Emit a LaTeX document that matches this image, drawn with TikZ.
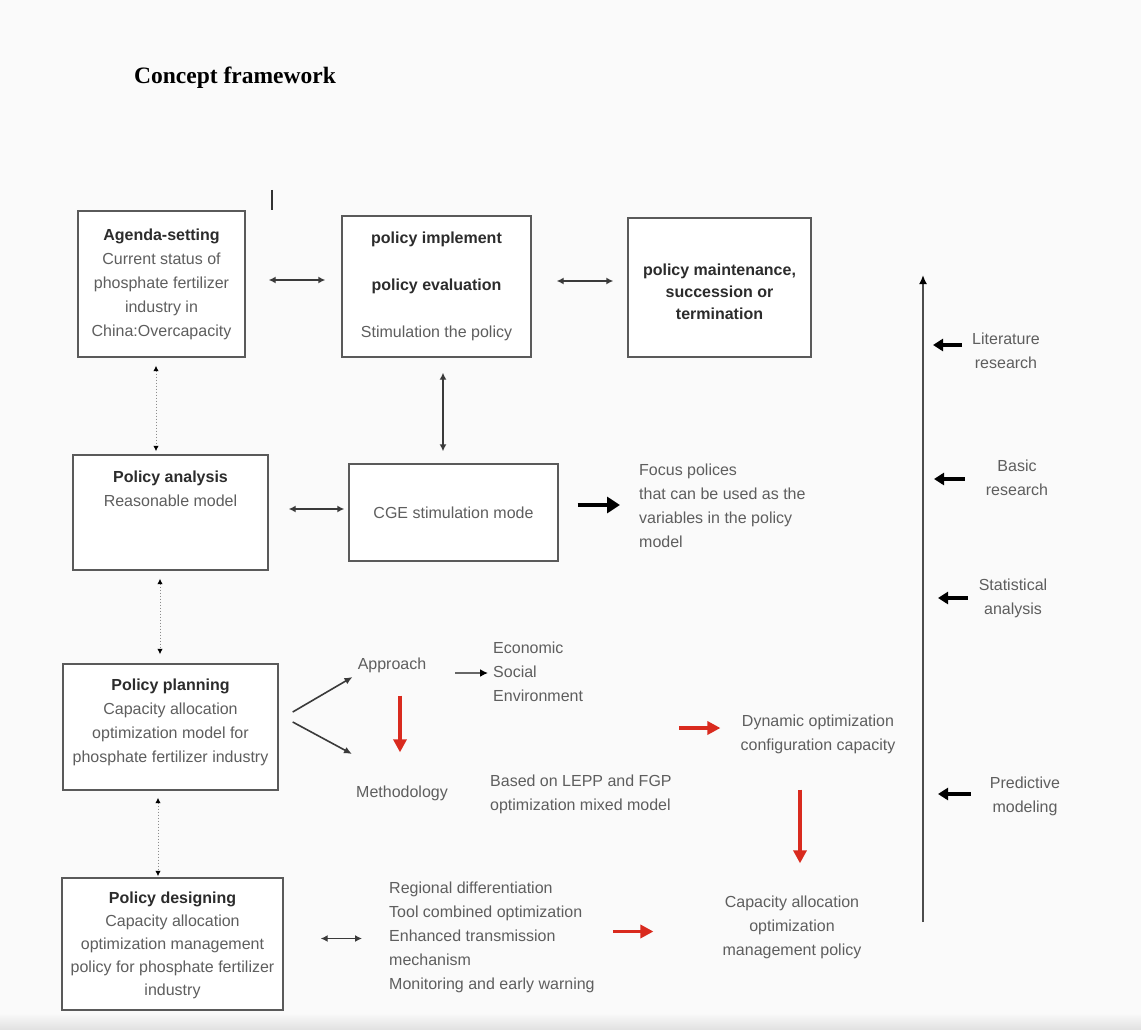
\documentclass[tikz,border=0pt]{standalone}
\usepackage{fontspec}
\setmainfont{Liberation Sans}
\newfontfamily\titlefont{Liberation Serif}
\usetikzlibrary{arrows.meta}

\definecolor{paper}{HTML}{FAFAFA}
\definecolor{ink}{HTML}{3A3A3A}
\definecolor{boxline}{HTML}{5A5A5A}
\definecolor{txt}{HTML}{5E5E5E}
\definecolor{head}{HTML}{2C2C2C}
\definecolor{redarrow}{HTML}{D92A1E}

\newcommand{\bhd}[1]{{\bfseries\color{head}#1}}

\tikzset{
  box/.style={draw=boxline, line width=1.4pt, fill=white, inner sep=2pt,
    font=\fontsize{16}{24}\selectfont, text=txt, align=center},
  body/.style={font=\fontsize{16}{24}\selectfont, text=txt, align=center, inner sep=2pt},
  lbody/.style={body, align=left},
  twoway/.style={draw=ink, line width=1.4pt,
    {Latex[length=7pt,width=7pt]}-{Latex[length=7pt,width=7pt]}},
  dotway/.style={draw=black!45, line width=1pt, dotted,
    {Latex[length=5.5pt,width=5.5pt,black]}-{Latex[length=5.5pt,width=5.5pt,black]}},
  thin/.style={draw=ink, line width=1.6pt, -{Latex[length=8pt,width=7pt]}},
  grayarrow/.style={draw=black!60, line width=2.6pt, -{Latex[length=8pt,width=8pt,black]}},
  redarr/.style={draw=redarrow, line width=3.4pt, -{Triangle[length=13pt,width=13pt]}},
  fatarr/.style={draw=black, line width=4.5pt, -{Triangle[length=13pt,width=16pt]}},
  backarr/.style={draw=black, line width=3.6pt, -{Triangle[length=10pt,width=12pt]}},
  axisarr/.style={draw=black!70, line width=2pt, -{Latex[length=9pt,width=8pt,black]}},
}

\begin{document}
\begin{tikzpicture}[x=1pt,y=-1pt]
\useasboundingbox (0,0) rectangle (1141,1030);
\fill[paper] (0,0) rectangle (1141,1030);
\shade[top color=paper, bottom color=black!12] (0,1013) rectangle (1141,1030);

% heading
\node[anchor=west, inner sep=0pt, font=\titlefont\bfseries\fontsize{23.5}{28}\selectfont] (title) at (134,78) {Concept framework};
\coordinate (barA) at (272,190);
\coordinate (barB) at (272,210);
\draw[black!80, line width=1.5pt] (barA) -- (barB);

% top row of stages
\node[box, minimum width=167pt, minimum height=146pt] (agenda) at (161.5,284)
  {\bhd{Agenda-setting}\\Current status of\\phosphate fertilizer\\industry in\\China:Overcapacity};
\node[box, minimum width=189pt, minimum height=141pt] (implement) at (436.5,286.5)
  {\bhd{policy implement}\\[23pt]\bhd{policy evaluation}\\[23pt]Stimulation the policy};
\node[box, minimum width=183pt, minimum height=139pt] (maintain) at (719.5,287.5) {};
\node[body] (maintaintxt) at (719.5,292)
  {\bhd{policy maintenance,}\\[-2pt]\bhd{succession or}\\[-2pt]\bhd{termination}};

% analysis row
\node[box, minimum width=195pt, minimum height=115pt] (analysis) at (170.5,512.5) {};
\node[body] (analysistxt) at (170.5,489) {\bhd{Policy analysis}\\Reasonable model};
\node[box, minimum width=209pt, minimum height=97pt] (cge) at (453.5,512.5) {CGE stimulation mode};
\node[lbody, anchor=west] (focus) at (637,506)
  {Focus polices\\that can be used as the\\variables in the policy\\model};

% planning row
\node[box, minimum width=215pt, minimum height=126pt] (planning) at (170.5,727) {};
\node[body] (planningtxt) at (170.5,722)
  {\bhd{Policy planning}\\Capacity allocation\\optimization model for\\phosphate fertilizer industry};
\node[body] (approach) at (392,665) {Approach};
\node[lbody, anchor=west] (econ) at (491,672) {Economic\\Social\\Environment};
\node[body] (method) at (402,793) {Methodology};
\node[lbody, anchor=west] (lepp) at (488,794) {Based on LEPP and FGP\\optimization mixed model};
\node[body] (dynamic) at (818,734) {Dynamic optimization\\configuration capacity};
\coordinate (redstart) at (679,728);

% designing row
\node[box, minimum width=221pt, minimum height=132pt] (designing) at (172.5,944) {};
\node[body, font=\fontsize{16}{23}\selectfont] (designingtxt) at (172.5,945)
  {\bhd{Policy designing}\\Capacity allocation\\optimization management\\policy for phosphate fertilizer\\industry};
\node[lbody, anchor=west] (measures) at (387,937.5)
  {Regional differentiation\\Tool combined optimization\\Enhanced transmission\\mechanism\\Monitoring and early warning};
\node[body] (capacity) at (792,927) {Capacity allocation\\optimization\\management policy};

% research axis
\coordinate (axbot) at (923,922);
\coordinate (axtop) at (923,275);
\node[body] (lit) at (1006,351) {Literature\\research};
\node[body] (basic) at (1017,478) {Basic\\research};
\node[body] (stat) at (1013,598) {Statistical\\analysis};
\node[body] (pred) at (1025,796) {Predictive\\modeling};

% connectors between stages
\draw[twoway, shorten <=23pt, shorten >=16pt]
  ([yshift=4pt]agenda.east) -- ([yshift=4pt]agenda.east -| implement.west);
\draw[twoway, shorten <=25pt, shorten >=14pt]
  ([yshift=5.5pt]implement.east) -- ([yshift=5.5pt]implement.east -| maintain.west);
\draw[twoway, shorten <=15pt, shorten >=12pt]
  ([xshift=6.5pt]implement.south) -- ([xshift=6.5pt]implement.south |- cge.north);
\draw[twoway, shorten <=20pt, shorten >=4pt]
  ([yshift=3.5pt]analysis.east) -- ([yshift=3.5pt]analysis.east -| cge.west);
\draw[fatarr, shorten <=19pt, shorten >=17pt]
  ([yshift=7.5pt]cge.east) -- ([yshift=7.5pt]cge.east -| focus.west);

\draw[dotway, shorten <=8pt, shorten >=3pt]
  ([xshift=-5.5pt]agenda.south) -- ([xshift=-5.5pt]agenda.south |- analysis.north);
\draw[dotway, shorten <=8pt, shorten >=9pt]
  ([xshift=-10.5pt]analysis.south) -- ([xshift=-10.5pt]analysis.south |- planning.north);
\draw[dotway, shorten <=7pt, shorten >=1pt]
  ([xshift=-12.5pt]planning.south) -- ([xshift=-12.5pt]planning.south |- designing.north);

\draw[thin] ([xshift=14pt,yshift=15pt]planning.east) -- ([xshift=-3pt,yshift=-12pt]approach.west);
\draw[thin] ([xshift=14pt,yshift=5pt]planning.east) -- ([xshift=-2pt,yshift=39pt]method.west);
\draw[grayarrow, shorten <=27pt, shorten >=3pt]
  ([yshift=-8pt]approach.east) -- ([yshift=-8pt]approach.east -| econ.west);
\draw[redarr, shorten <=21pt, shorten >=31pt]
  ([xshift=8pt]approach.south) -- ([xshift=8pt]approach.south |- method.north);
\draw[redarr, shorten >=18pt] (redstart) -- (redstart -| dynamic.west);
\draw[redarr, shorten <=34pt, shorten >=30pt]
  ([xshift=-18pt]dynamic.south) -- ([xshift=-18pt]dynamic.south |- capacity.north);

\draw[twoway, shorten <=37pt, shorten >=25pt]
  ([yshift=5.5pt]designing.east) -- ([yshift=5.5pt]designing.east -| measures.west);
\draw[redarr, shorten <=16pt, shorten >=67pt]
  ([yshift=6pt]measures.east) -- ([yshift=6pt]measures.east -| capacity.west);

% research axis and its inputs
\draw[axisarr] (axbot) -- (axtop);
\draw[backarr, shorten <=8pt, shorten >=10pt] ([yshift=6pt]lit.west) -- ([yshift=6pt]lit.west -| axbot);
\draw[backarr, shorten <=19pt, shorten >=11pt] ([yshift=-1pt]basic.west) -- ([yshift=-1pt]basic.west -| axbot);
\draw[backarr, shorten <=9pt, shorten >=15pt] (stat.west) -- (stat.west -| axbot);
\draw[backarr, shorten <=17pt, shorten >=15pt] ([yshift=2pt]pred.west) -- ([yshift=2pt]pred.west -| axbot);
\end{tikzpicture}
\end{document}
